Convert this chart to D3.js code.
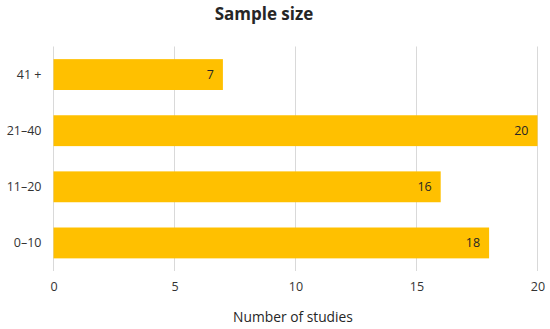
<!DOCTYPE html>
<html>
<head>
<meta charset="utf-8">
<script src="https://cdn.jsdelivr.net/npm/d3@7"></script>
<style>
  body { margin: 0; background: #fff; }
  text { font-family: "Open Sans", "Noto Sans", sans-serif; }
</style>
</head>
<body>
<script>
// Sample size bar chart
var categories = ['41 +', '21–40', '11–20', '0–10'];
var studies = [7, 20, 16, 18];
var xTicks = [0, 5, 10, 15, 20];

var w = 550;
var h = 329;
var plotLeft = 53.5, plotRight = 537.5, plotTop = 46.5, plotBottom = 271;

var svg = d3.select('body').append('svg').attr('width', w).attr('height', h);

var x = d3.scaleLinear().domain([0, 20]).range([plotLeft, plotRight]);
var y = d3.scaleBand().domain(categories).range([plotTop, plotBottom]).paddingInner(0.45).paddingOuter(0.225);

// gridlines
svg.append('g').selectAll('line').data(xTicks).enter().append('line')
  .attr('x1', function(d) { return x(d); })
  .attr('x2', function(d) { return x(d); })
  .attr('y1', plotTop)
  .attr('y2', plotBottom)
  .attr('stroke', '#d9d9d9')
  .attr('stroke-width', 1);

// bars
svg.append('g').selectAll('rect').data(studies).enter().append('rect')
  .attr('x', x(0))
  .attr('y', function(d, i) { return y(categories[i]); })
  .attr('width', function(d) { return x(d) - x(0); })
  .attr('height', y.bandwidth())
  .attr('fill', '#ffc000');

// value labels
svg.append('g').selectAll('text').data(studies).enter().append('text')
  .text(function(d) { return d; })
  .attr('x', function(d) { return x(d) - 9; })
  .attr('y', function(d, i) { return y(categories[i]) + y.bandwidth() / 2; })
  .attr('dy', '0.35em')
  .attr('text-anchor', 'end')
  .attr('font-size', '12.5px')
  .attr('fill', '#262626');

// x axis
var xAxis = d3.axisBottom(x).tickValues(xTicks).tickSize(0).tickPadding(11);
var gx = svg.append('g').attr('transform', 'translate(0,' + plotBottom + ')').call(xAxis);
gx.select('.domain').remove();
gx.selectAll('text').attr('font-size', '12.5px').attr('fill', '#333').style('font-family', '"Open Sans", sans-serif');

// y axis
var yAxis = d3.axisLeft(y).tickSize(0).tickPadding(12);
var gy = svg.append('g').attr('transform', 'translate(' + plotLeft + ',0)').call(yAxis);
gy.select('.domain').remove();
gy.selectAll('text').attr('font-size', '12.5px').attr('fill', '#333').style('font-family', '"Open Sans", sans-serif');

// title
svg.append('text')
  .text('Sample size')
  .attr('x', 264)
  .attr('y', 20)
  .attr('text-anchor', 'middle')
  .attr('font-size', '17px')
  .attr('font-weight', 'bold')
  .attr('fill', '#262626');

// axis title
svg.append('text')
  .text('Number of studies')
  .attr('x', 293)
  .attr('y', 322)
  .attr('text-anchor', 'middle')
  .attr('font-size', '13.8px')
  .attr('fill', '#262626');
</script>
</body>
</html>
